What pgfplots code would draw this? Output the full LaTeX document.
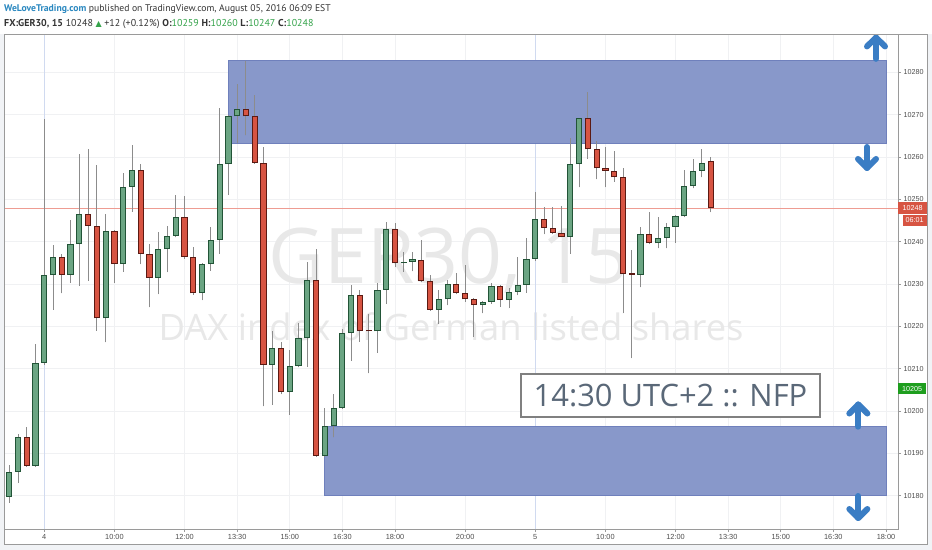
\documentclass[border=0pt]{standalone}
\usepackage{fontspec}
\setmainfont{Liberation Sans}
\newfontfamily\osans{Open Sans}
\newfontfamily\ptsans{PT Sans}
\newfontfamily\dejavu{DejaVu Sans}
\usepackage{pgfplots}
\pgfplotsset{compat=1.18}
\usepackage{pgfplotstable}

\definecolor{upfill}{HTML}{6BA583}
\definecolor{upbord}{HTML}{225437}
\definecolor{dnfill}{HTML}{D75442}
\definecolor{dnbord}{HTML}{5B1A13}
\definecolor{wickc}{HTML}{8C8C8C}
\definecolor{zonef}{HTML}{8898CA}
\definecolor{zoneb}{HTML}{6F80BC}
\definecolor{arrowc}{HTML}{3A7DC4}
\definecolor{gridc}{HTML}{F0F1F3}
\definecolor{dayc}{HTML}{D0DAF0}
\definecolor{pricel}{HTML}{EE9C92}
\definecolor{framec}{HTML}{9A9A9A}
\definecolor{bgc}{HTML}{F1F3F6}
\definecolor{tickc}{HTML}{4D4D4D}
\definecolor{wmc}{HTML}{E8E8E8}
\definecolor{nfpc}{HTML}{5A6878}
\definecolor{nfpb}{HTML}{808080}
\definecolor{lblred}{HTML}{D75442}
\definecolor{lblgrn}{HTML}{1E9E1E}
\definecolor{wltc}{HTML}{2A88C0}
\definecolor{hdrc}{HTML}{333333}
\definecolor{hdrg}{HTML}{34A34A}

\pgfplotstableread{
t O H L C
-1.00 10179.8 10187.3 10178.3 10185.7
-0.75 10185.7 10194.5 10183.0 10194.0
-0.25 10187.1 10215.8 10186.8 10211.4
0.00 10211.4 10269.0 10211.0 10232.1
0.25 10232.1 10239.2 10223.9 10236.3
0.75 10232.2 10245.1 10230.3 10239.4
1.00 10239.4 10260.8 10229.6 10246.5
1.75 10221.9 10246.5 10216.2 10242.6
2.25 10234.7 10256.3 10232.9 10253.0
2.50 10253.0 10262.8 10247.1 10257.0
3.25 10231.5 10242.3 10227.6 10238.2
3.50 10238.2 10243.7 10232.8 10241.4
3.75 10241.4 10251.1 10241.0 10245.9
4.50 10227.8 10235.0 10226.2 10234.7
4.75 10234.7 10243.5 10233.1 10240.4
5.00 10240.4 10271.6 10237.2 10258.3
5.25 10258.3 10270.0 10251.1 10269.6
5.50 10269.6 10277.3 10263.2 10271.4
6.50 10210.9 10218.8 10201.5 10214.8
7.00 10204.4 10214.4 10199.1 10210.7
7.25 10210.7 10220.7 10210.3 10217.2
7.50 10217.2 10235.3 10210.5 10230.9
8.00 10189.4 10200.8 10189.2 10196.5
8.25 10196.5 10204.1 10193.8 10200.7
8.50 10200.7 10219.3 10200.5 10218.4
8.75 10218.4 10229.8 10211.9 10227.4
9.50 10218.8 10230.3 10213.8 10228.6
9.75 10228.6 10244.7 10225.4 10242.9
10.25 10234.9 10237.6 10232.9 10235.3
10.50 10235.3 10237.5 10233.0 10235.9
11.25 10223.9 10228.7 10220.6 10226.4
11.50 10226.4 10230.9 10225.0 10229.9
12.50 10225.0 10226.1 10223.1 10225.8
12.75 10225.8 10230.3 10225.3 10229.5
13.25 10226.2 10229.0 10224.3 10228.2
13.50 10228.2 10236.3 10227.4 10229.8
13.75 10229.8 10240.8 10228.0 10236.0
14.00 10236.0 10251.8 10235.5 10245.3
15.00 10241.2 10264.4 10237.1 10258.3
15.25 10258.3 10269.3 10252.8 10269.1
17.00 10232.2 10243.4 10229.2 10241.8
17.50 10239.6 10245.9 10238.4 10240.8
17.75 10240.8 10244.5 10238.4 10243.5
18.00 10243.5 10246.3 10239.7 10246.0
18.25 10246.0 10257.0 10245.8 10253.1
18.50 10253.1 10259.6 10252.6 10256.7
18.75 10256.7 10262.0 10255.2 10258.6
}\upc

\pgfplotstableread{
t O H L C
-0.50 10194.0 10196.3 10186.8 10187.1
0.50 10236.3 10237.2 10227.8 10232.2
1.25 10246.5 10262.0 10230.8 10243.8
1.50 10243.8 10258.1 10219.0 10221.9
2.00 10242.6 10242.8 10230.3 10234.7
2.75 10257.0 10258.3 10234.7 10237.2
3.00 10237.2 10239.4 10224.5 10231.5
4.00 10245.9 10250.8 10236.0 10236.4
4.25 10236.4 10238.7 10227.5 10227.8
5.75 10271.4 10282.7 10265.1 10269.6
6.00 10269.6 10274.6 10258.4 10258.6
6.25 10258.6 10262.4 10201.1 10210.9
6.75 10214.8 10216.4 10204.0 10204.4
7.75 10230.9 10238.2 10189.2 10189.4
9.00 10227.4 10228.7 10216.4 10219.0
9.25 10219.2 10222.9 10208.9 10218.8
10.00 10242.9 10244.4 10234.0 10234.9
10.75 10235.7 10240.5 10230.4 10230.7
11.00 10230.7 10232.1 10223.7 10223.9
11.75 10229.9 10232.5 10227.6 10228.0
12.00 10228.0 10234.5 10225.8 10226.4
12.25 10226.4 10226.6 10217.6 10225.0
13.00 10229.5 10229.7 10224.6 10226.2
14.25 10245.3 10248.2 10241.8 10243.3
14.50 10243.3 10248.2 10241.8 10242.1
14.75 10242.1 10248.4 10241.0 10241.2
15.50 10269.1 10275.4 10259.6 10261.8
15.75 10261.8 10263.8 10254.7 10257.3
16.00 10257.3 10262.4 10252.9 10256.7
16.25 10256.7 10261.4 10254.1 10255.2
16.50 10255.2 10257.5 10223.1 10232.4
16.75 10232.6 10238.0 10212.5 10232.2
17.25 10241.8 10247.1 10239.4 10239.6
19.00 10259.0 10260.0 10247.0 10248.0
}\dnc

\pgfplotsset{
  hidemarks/.style={only marks, mark=*, mark size=0pt, mark options={draw=none, fill=none}, forget plot},
  wick/.style={hidemarks,
    error bars/.cd, y dir=plus, y explicit, error mark=none,
    error bar style={draw=wickc, line width=0.9bp}},
  bodyout/.style={hidemarks,
    error bars/.cd, y dir=plus, y explicit, error mark=none,
    error bar style={draw=#1, line width=6.2bp}},
  bodyin/.style={hidemarks,
    error bars/.cd, y dir=plus, y explicit, error mark=none,
    error bar style={draw=#1, line width=4.2bp}},
  arr/.style={arrowc, line width=6bp, line cap=round, line join=round, mark=none, forget plot},
}

\begin{document}
\begin{tikzpicture}
\path[use as bounding box] (0,0) rectangle (932bp,550bp);
\fill[white] (0,0) rectangle (932bp,550bp);
\fill[bgc] (0,0) rectangle (932bp,516bp);
\fill[white] (4bp,6bp) rectangle (927bp,516bp);

% header
\node[anchor=base west, inner sep=0, font=\ptsans\fontsize{9.7}{12}\selectfont] at (4bp,538.5bp)
  {\textcolor{wltc}{\bfseries WeLoveTrading.com} \textcolor{hdrc}{published on TradingView.com, August 05, 2016 06:09 EST}};
\node[anchor=base west, inner sep=0, font=\ptsans\fontsize{10}{12}\selectfont, text=hdrc] at (4bp,523.5bp)
  {{\bfseries FX:GER30, 15} 10248 \textcolor{hdrg}{\dejavu\fontsize{8}{10}\selectfont ▲} +12 (+0.12\%) {\bfseries O:}\textcolor{hdrg}{10259} {\bfseries H:}\textcolor{hdrg}{10260} {\bfseries L:}\textcolor{hdrg}{10247} {\bfseries C:}\textcolor{hdrg}{10248}};

\begin{axis}[
  at={(4bp,21bp)}, anchor=south west, scale only axis,
  width=894bp, height=495bp,
  xmin=-1.149, xmax=24.343, ymin=10172.16, ymax=10289.04,
  clip=false,
  axis line style={draw=framec, line width=0.8bp},
  xtick={0,2,4,5.5,7,8.5,10,12,14,16,18,19.5,21,22.5,24},
  xticklabels={4,10:00,12:00,13:30,15:00,16:30,18:00,20:00,5,10:00,12:00,13:30,15:00,16:30,18:00},
  ytick={10180,10190,...,10280},
  scaled y ticks=false,
  yticklabel={\pgfmathprintnumber[fixed, precision=0, 1000 sep={}, assume math mode=true]{\tick}},
  ytick pos=right, yticklabel pos=right, xtick pos=bottom,
  tick align=outside, major tick length=3bp,
  tick style={color=framec, line width=0.6bp},
  grid=major, grid style={color=gridc, line width=0.7bp},
  yticklabel style={font=\fontsize{7.2}{8}\selectfont, text=tickc, inner sep=2.5bp},
  xticklabel style={font=\fontsize{7.4}{8}\selectfont, text=tickc, inner sep=2bp},
]
% watermark
\node[anchor=base, inner sep=0, text=wmc, font=\osans\fontsize{77}{77}\selectfont] at (axis cs:11.54,10230.18) {GER30, 15};
\node[anchor=base, inner sep=0, text=wmc, font=\osans\fontsize{36.5}{37}\selectfont] at (axis cs:11.60,10216.6) {DAX index of German listed shares};

% day separators and price line
\addplot[dayc, line width=0.8bp, forget plot] coordinates {(0,10172.16) (0,10289.04)};
\addplot[dayc, line width=0.8bp, forget plot] coordinates {(14,10172.16) (14,10289.04)};
\addplot[pricel, line width=0.6bp, forget plot] coordinates {(-1.149,10248) (24.343,10248)};

% zones
\addplot[fill=zonef, draw=zoneb, line width=0.8bp, forget plot] coordinates {(5.238,10263.3) (24.0,10263.3) (24.0,10282.9) (5.238,10282.9)} -- cycle;
\addplot[fill=zonef, draw=zoneb, line width=0.8bp, forget plot] coordinates {(7.976,10180.0) (24.0,10180.0) (24.0,10196.3) (7.976,10196.3)} -- cycle;

% wicks
\addplot[wick] table[x=t, y=L, y error plus expr=\thisrow{H}-\thisrow{L}] {\upc};
\addplot[wick] table[x=t, y=L, y error plus expr=\thisrow{H}-\thisrow{L}] {\dnc};
% bodies
\addplot[bodyout=upbord] table[x=t, y expr={min(\thisrow{O},\thisrow{C})}, y error plus expr={max(abs(\thisrow{C}-\thisrow{O}),0.4)}] {\upc};
\addplot[bodyin=upfill] table[x=t, y expr={min(\thisrow{O},\thisrow{C})+0.236}, y error plus expr={max(abs(\thisrow{C}-\thisrow{O})-0.472,0)}] {\upc};
\addplot[bodyout=dnbord] table[x=t, y expr={min(\thisrow{O},\thisrow{C})}, y error plus expr={max(abs(\thisrow{C}-\thisrow{O}),0.4)}] {\dnc};
\addplot[bodyin=dnfill] table[x=t, y expr={min(\thisrow{O},\thisrow{C})+0.236}, y error plus expr={max(abs(\thisrow{C}-\thisrow{O})-0.472,0)}] {\dnc};

% arrows
\addplot[arr] coordinates {(23.716,10283.18) (23.716,10288.2)};
\addplot[arr] coordinates {(23.459,10286.1) (23.716,10288.2) (23.972,10286.1)};
\addplot[arr] coordinates {(23.459,10262.36) (23.459,10257.40)};
\addplot[arr] coordinates {(23.202,10259.53) (23.459,10257.40) (23.716,10259.53)};
\addplot[arr] coordinates {(23.212,10196.32) (23.212,10201.56)};
\addplot[arr] coordinates {(22.955,10199.43) (23.212,10201.56) (23.469,10199.43)};
\addplot[arr] coordinates {(23.212,10179.95) (23.212,10174.76)};
\addplot[arr] coordinates {(22.955,10176.88) (23.212,10174.76) (23.469,10176.88)};

% NFP box
\node[draw=nfpb, line width=1.2bp, fill=white, minimum width=299bp, minimum height=43bp, inner sep=0,
  font=\osans\fontsize{31}{31}\selectfont, text=nfpc] at (axis cs:17.856,10203.68) {14:30 UTC+2 :: NFP};

% price labels on the scale
\node[anchor=west, fill=lblred, text=white, inner sep=0, minimum width=29bp, minimum height=11.5bp, font=\fontsize{7.2}{8}\selectfont] at (axis cs:24.343,10248) {10248};
\node[anchor=west, fill=lblred, text=white, inner sep=0, minimum width=24bp, minimum height=11bp, font=\fontsize{7.2}{8}\selectfont] at ([xshift=4.5bp]axis cs:24.343,10245.0) {06:01};
\node[anchor=west, fill=lblgrn, text=white, inner sep=0, minimum width=28bp, minimum height=11bp, font=\fontsize{7.2}{8}\selectfont] at (axis cs:24.343,10205.3) {10205};
\end{axis}
\draw[framec, line width=0.8bp] (4bp,6bp) rectangle (927bp,516bp);
\end{tikzpicture}
\end{document}
